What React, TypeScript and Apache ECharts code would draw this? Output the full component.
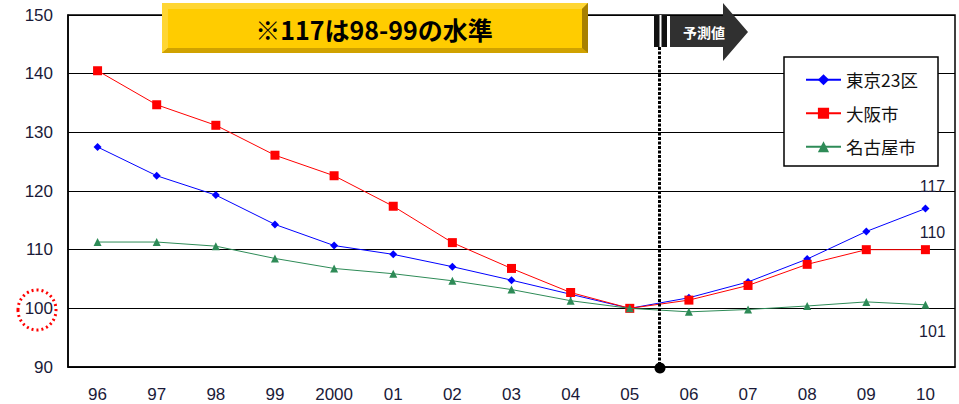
import React, { useEffect, useRef } from "react";
import * as echarts from "echarts";

const categories = ["96", "97", "98", "99", "2000", "01", "02", "03", "04", "05", "06", "07", "08", "09", "10"];
const tokyo = [127.5, 122.6, 119.3, 114.3, 110.7, 109.2, 107.1, 104.8, 102.4, 100, 101.8, 104.5, 108.4, 113.1, 117];
const osaka = [140.5, 134.7, 131.2, 126.1, 122.6, 117.4, 111.2, 106.8, 102.7, 100, 101.4, 103.9, 107.5, 110, 110];
const nagoya = [111.3, 111.3, 110.6, 108.5, 106.8, 105.9, 104.7, 103.2, 101.3, 100, 99.4, 99.8, 100.4, 101.1, 100.6];
const seriesNames = ["東京23区", "大阪市", "名古屋市"];
const noteText = "※117は98-99の水準";
const forecastText = "予測値";

const axisFont = "'Liberation Sans', Arial, sans-serif";
const cjkFont = "'Noto Sans CJK JP', sans-serif";
const labelColor = "#1a1a38";

function withEndLabel(values: number[], pos: string, offset: number[]) {
  return values.map((v, i) =>
    i === values.length - 1
      ? {
          value: v,
          label: {
            show: true,
            position: pos,
            offset,
            formatter: (p: any) => String(Math.round(p.value)),
            fontFamily: axisFont,
            fontSize: 16,
            color: labelColor,
          },
        }
      : v
  );
}

export default function App() {
  const ref = useRef<HTMLDivElement>(null);
  useEffect(() => {
    if (!ref.current) return;
    const chart = echarts.init(ref.current, undefined, { renderer: "svg" });
    const lineX = 659.5;
    chart.setOption({
      animation: false,
      backgroundColor: "#fff",
      grid: {
        left: 68,
        right: 4,
        top: 15,
        bottom: 37,
        show: true,
        borderColor: "#000",
        borderWidth: 1.5,
        backgroundColor: "transparent",
      },
      legend: {
        data: seriesNames,
        orient: "vertical",
        left: 805,
        top: 71,
        padding: 0,
        itemWidth: 35,
        itemHeight: 14,
        itemGap: 16,
        textStyle: { fontFamily: cjkFont, fontSize: 17.5, color: "#111" },
        z: 20,
      },
      xAxis: {
        type: "category",
        data: categories,
        boundaryGap: true,
        axisLine: { lineStyle: { color: "#000", width: 1.5 } },
        axisTick: { inside: true, length: 7, lineStyle: { color: "#000", width: 1.5 } },
        axisLabel: { margin: 19, fontFamily: axisFont, fontSize: 17, color: labelColor },
        splitLine: { show: false },
      },
      yAxis: {
        type: "value",
        min: 90,
        max: 150,
        interval: 10,
        axisLine: { show: true, lineStyle: { color: "#000", width: 1.5 } },
        axisTick: { show: false },
        axisLabel: { margin: 15, fontFamily: axisFont, fontSize: 17, color: labelColor },
        splitLine: { lineStyle: { color: "#000", width: 1.2 } },
      },
      series: [
        {
          name: seriesNames[0],
          type: "line",
          data: withEndLabel(tokyo, "top", [7, -5]),
          symbol: "diamond",
          symbolSize: 8,
          color: "#0000ff",
          lineStyle: { width: 1 },
          z: 3,
        },
        {
          name: seriesNames[1],
          type: "line",
          data: withEndLabel(osaka, "top", [7, 0]),
          symbol: "rect",
          symbolSize: 9,
          color: "#ff0000",
          lineStyle: { width: 1 },
          z: 4,
        },
        {
          name: seriesNames[2],
          type: "line",
          data: withEndLabel(nagoya, "bottom", [7, 10]),
          symbol: "triangle",
          symbolSize: 8,
          color: "#2e8b57",
          lineStyle: { width: 1 },
          z: 5,
        },
      ],
      graphic: [
        {
          type: "rect",
          z: 10,
          shape: { x: 784, y: 57, width: 154, height: 109 },
          style: { fill: "#fff", stroke: "#000", lineWidth: 1.5 },
        },
        {
          type: "rect",
          z: 10,
          shape: { x: 162, y: 3, width: 426, height: 50 },
          style: { fill: "#c99a00" },
        },
        {
          type: "polygon",
          z: 11,
          shape: { points: [[162, 3], [588, 3], [582, 9], [168, 9], [168, 48], [162, 53]] },
          style: { fill: "#ffd633" },
        },
        {
          type: "polygon",
          z: 11,
          shape: { points: [[588, 3], [588, 53], [582, 48], [582, 9]] },
          style: { fill: "#a88000" },
        },
        {
          type: "polygon",
          z: 11,
          shape: { points: [[162, 53], [588, 53], [582, 48], [168, 48]] },
          style: { fill: "#d0a200" },
        },
        {
          type: "rect",
          z: 12,
          shape: { x: 168, y: 9, width: 414, height: 39 },
          style: { fill: "#ffcc00" },
        },
        {
          type: "text",
          z: 13,
          x: 374,
          y: 29,
          style: {
            text: noteText,
            fontFamily: cjkFont,
            fontWeight: "bold",
            fontSize: 25,
            fill: "#000",
            align: "center",
            verticalAlign: "middle",
          },
        },
        {
          type: "rect",
          z: 10,
          shape: { x: 654, y: 15, width: 13, height: 32 },
          style: { fill: "#111" },
        },
        {
          type: "line",
          z: 11,
          shape: { x1: 660.5, y1: 15, x2: 660.5, y2: 47 },
          style: { stroke: "#fff", lineWidth: 2 },
        },
        {
          type: "polygon",
          z: 10,
          shape: { points: [[670, 16], [723, 16], [723, 3], [748, 32], [723, 61], [723, 47], [670, 47]] },
          style: { fill: "#303030" },
        },
        {
          type: "text",
          z: 11,
          x: 704,
          y: 32,
          style: {
            text: forecastText,
            fontFamily: cjkFont,
            fontWeight: "bold",
            fontSize: 14,
            fill: "#fff",
            align: "center",
            verticalAlign: "middle",
          },
        },
        {
          type: "line",
          z: 9,
          shape: { x1: lineX, y1: 47, x2: lineX, y2: 367 },
          style: { stroke: "#000", lineWidth: 3, lineDash: [3, 1.5] },
        },
        {
          type: "circle",
          z: 9,
          shape: { cx: 660, cy: 368, r: 5.5 },
          style: { fill: "#000" },
        },
        {
          type: "ellipse",
          z: 9,
          shape: { cx: 37, cy: 310, rx: 19, ry: 20 },
          style: { fill: "none", stroke: "#ff0000", lineWidth: 3, lineDash: [2, 3] },
        },
      ],
    });
    return () => chart.dispose();
  }, []);
  return (
    <div
      ref={ref}
      style={{ position: "fixed", left: 0, top: 0, width: 959, height: 404 }}
    />
  );
}
